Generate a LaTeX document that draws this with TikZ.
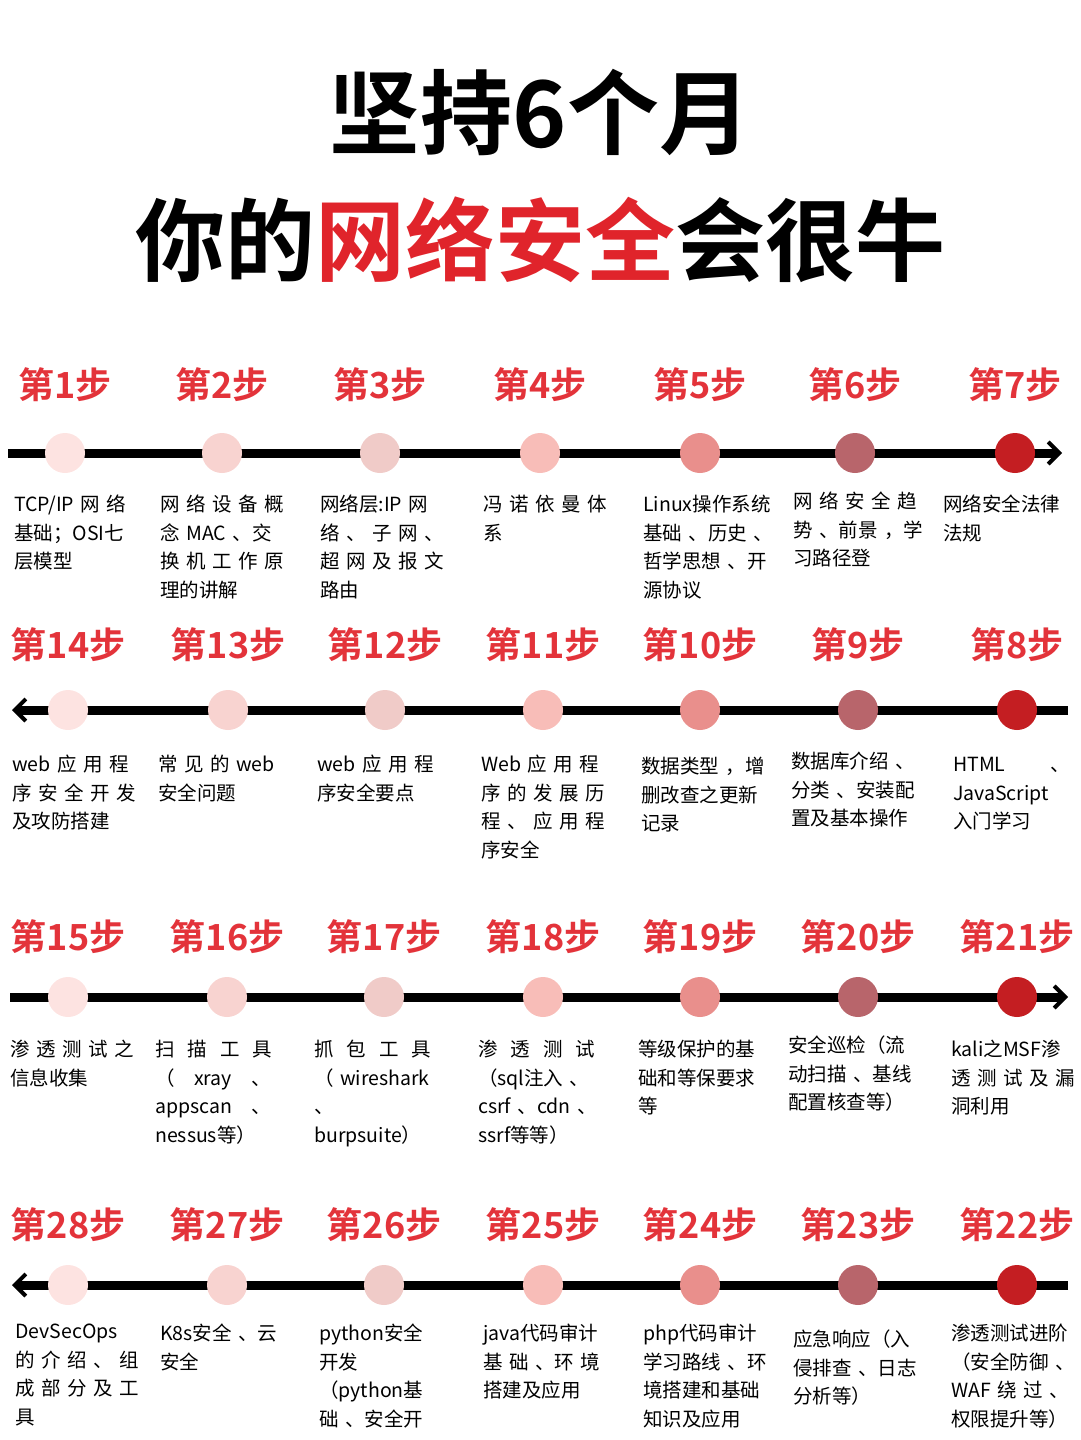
\documentclass[tikz,border=0pt]{standalone}
\usepackage{fontspec}
\setmainfont{Noto Sans CJK SC}
\newfontfamily\cjkb{Noto Sans CJK SC Bold}
\usetikzlibrary{arrows.meta}
\definecolor{tred}{HTML}{E0242B}
\definecolor{sred}{HTML}{E3333A}
\definecolor{d1}{HTML}{FDE3E1}
\definecolor{d2}{HTML}{F8D3D0}
\definecolor{d3}{HTML}{F0CBC8}
\definecolor{d4}{HTML}{F8BDB8}
\definecolor{d5}{HTML}{E98F8C}
\definecolor{d6}{HTML}{B8656B}
\definecolor{d7}{HTML}{C41E22}
\tikzset{
 steplab/.style={font=\cjkb\fontsize{36}{38}\selectfont, text=sred},
 desc/.style={anchor=north west, align=left, text width=140pt, inner sep=0pt, font=\fontsize{19.5}{28.5}\selectfont},
 tl/.style={line width=9pt},
 tip/.style={-{Straight Barb[length=11pt,width=22pt,line width=4pt]}},
 dot/.style={circle, minimum size=40pt, inner sep=0pt},
}
\begin{document}
\begin{tikzpicture}[x=1pt,y=-1pt]
\useasboundingbox (0,0) rectangle (1080,1440);
\node (t1) at (540,112) {\cjkb\fontsize{92}{100}\selectfont 坚持6个月};
\node (t2) at (540,240) {\cjkb\fontsize{90}{100}\selectfont 你的\textcolor{tred}{网络安全}会很牛};
% Row 1
\draw[tl,tip] (8,453) -- (1062,453);
\foreach \x/\c/\n [count=\i] in {65/d1/1,222/d2/2,380/d3/3,540/d4/4,700/d5/5,855/d6/6,1015/d7/7}{
 \node[dot,fill=\c] (r1d\i) at (\x,453) {};
 \node[steplab] (r1s\i) at (\x,385) {第\n 步};
}
\node[desc] (r1t1) at (14,495) {TCP/IP 网 络\\基础；OSI七\\层模型};
\node[desc] (r1t2) at (160,495) {网 络 设 备 概\\念 MAC 、交\\换 机 工 作 原\\理的讲解};
\node[desc] (r1t3) at (320,495) {网络层:IP 网\\络 、 子 网 、\\超 网 及 报 文\\路由};
\node[desc] (r1t4) at (483,495) {冯 诺 依 曼 体\\系};
\node[desc] (r1t5) at (643,495) {Linux操作系统\\基础 、历史 、\\哲学思想 、开\\源协议};
\node[desc] (r1t6) at (793,492) {网 络 安 全 趋\\势 、前景 ，学\\习路径登};
\node[desc] (r1t7) at (943,495) {网络安全法律\\法规};
% Row 2
\draw[tl,tip] (1068,710) -- (12,710);
\foreach \x/\c/\n [count=\i] in {68/d1/14,228/d2/13,385/d3/12,543/d4/11,700/d5/10,858/d6/9,1017/d7/8}{
 \node[dot,fill=\c] (r2d\i) at (\x,710) {};
 \node[steplab] (r2s\i) at (\x,645) {第\n 步};
}
\node[desc] (r2t1) at (12,755) {web 应 用 程\\序 安 全 开 发\\及攻防搭建};
\node[desc] (r2t2) at (158,755) {常 见 的 web\\安全问题};
\node[desc] (r2t3) at (317,755) {web 应 用 程\\序安全要点};
\node[desc] (r2t4) at (481,755) {Web 应 用 程\\序 的 发 展 历\\程 、 应 用 程\\序安全};
\node[desc] (r2t5) at (641,757) {数据类型 ，增\\删改查之更新\\记录};
\node[desc] (r2t6) at (791,752) {数据库介绍 、\\分类 、安装配\\置及基本操作};
\node[desc] (r2t7) at (953,757) {HTML \hspace{38pt}、\\JavaScript\\入门学习};
% Row 3
\draw[tl,tip] (10,997) -- (1068,997);
\foreach \x/\c/\n [count=\i] in {68/d1/15,227/d2/16,384/d3/17,543/d4/18,700/d5/19,858/d6/20,1017/d7/21}{
 \node[dot,fill=\c] (r3d\i) at (\x,997) {};
 \node[steplab] (r3s\i) at (\x,937) {第\n 步};
}
\node[desc] (r3t1) at (10,1040) {渗 透 测 试 之\\信息收集};
\node[desc] (r3t2) at (155,1040) {扫 \ 描 \ 工 \ 具\\（ \ \ xray \ \ 、\\appscan \ \ 、\\nessus等）};
\node[desc] (r3t3) at (314,1040) {抓 \ 包 \ 工 \ 具\\（ wireshark\\、\\burpsuite）};
\node[desc] (r3t4) at (478,1040) {渗 \ 透 \ 测 \ 试\\（sql注入 、\\csrf 、cdn 、\\ssrf等等）};
\node[desc] (r3t5) at (638,1040) {等级保护的基\\础和等保要求\\等};
\node[desc] (r3t6) at (788,1036) {安全巡检（流\\动扫描 、基线\\配置核查等）};
\node[desc] (r3t7) at (951,1040) {kali之MSF渗\\透 测 试 及 漏\\洞利用};
% Row 4
\draw[tl,tip] (1068,1285) -- (12,1285);
\foreach \x/\c/\n [count=\i] in {68/d1/28,227/d2/27,384/d3/26,543/d4/25,700/d5/24,858/d6/23,1017/d7/22}{
 \node[dot,fill=\c] (r4d\i) at (\x,1285) {};
 \node[steplab] (r4s\i) at (\x,1225) {第\n 步};
}
\node[desc] (r4t1) at (15,1324) {DevSecOps\\的 介 绍 、 组\\成 部 分 及 工\\具};
\node[desc] (r4t2) at (160,1324) {K8s安全 、云\\安全};
\node[desc] (r4t3) at (319,1324) {python安全\\开发\\（python基\\础 、安全开};
\node[desc] (r4t4) at (483,1324) {java代码审计\\基 础 、环 境\\搭建及应用};
\node[desc] (r4t5) at (643,1324) {php代码审计\\学习路线 、环\\境搭建和基础\\知识及应用};
\node[desc] (r4t6) at (793,1330) {应急响应（入\\侵排查 、日志\\分析等）};
\node[desc] (r4t7) at (951,1324) {渗透测试进阶\\（安全防御 、\\WAF 绕 过 、\\权限提升等）};
\end{tikzpicture}
\end{document}
